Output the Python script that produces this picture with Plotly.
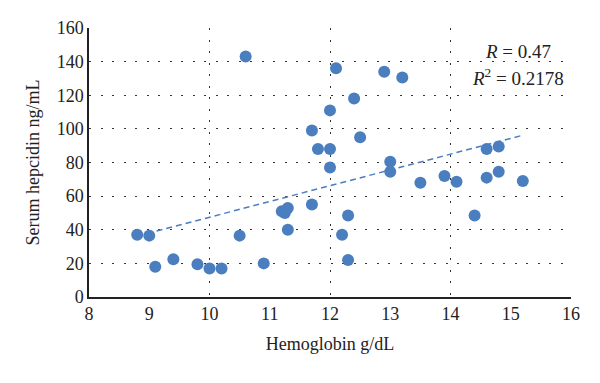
import plotly.graph_objects as go
import numpy as np

hemoglobin = [8.8, 9.0, 9.1, 9.4, 9.8, 10.0, 10.2, 10.5, 10.6, 10.9,
              11.2, 11.25, 11.3, 11.3, 11.7, 11.7, 11.8, 12.0, 12.0, 12.0,
              12.1, 12.2, 12.3, 12.3, 12.4, 12.5, 12.9, 13.0, 13.0, 13.2,
              13.5, 13.9, 14.1, 14.4, 14.6, 14.6, 14.8, 14.8, 15.2]
hepcidin = [37, 36.5, 18, 22.5, 19.5, 17, 17, 36.5, 143, 20,
            51, 50, 53, 40, 99, 55, 88, 88, 111, 77,
            136, 37, 48.5, 22, 118, 95, 134, 80.5, 74.5, 130.5,
            68, 72, 68.5, 48.5, 88, 71, 89.5, 74.5, 69]
x_ticks = [8, 9, 10, 11, 12, 13, 14, 15, 16]
x_grid = [10, 12, 14, 16]
y_ticks = [0, 20, 40, 60, 80, 100, 120, 140, 160]

blue = "#4A7EBF"
font = "Liberation Serif, Times New Roman, serif"
ink = "#222222"

coef = np.polyfit(hemoglobin, hepcidin, 1)
tx = [min(hemoglobin), max(hemoglobin)]
ty = [coef[0] * v + coef[1] for v in tx]

fig = go.Figure()
fig.add_trace(go.Scatter(x=tx, y=ty, mode="lines",
                         line=dict(color=blue, width=1.5, dash="6px,4px"),
                         hoverinfo="skip", showlegend=False))
fig.add_trace(go.Scatter(x=hemoglobin, y=hepcidin, mode="markers",
                         marker=dict(color=blue, size=12, line=dict(width=0)),
                         showlegend=False))
# invisible trace to carry the gridline axis
fig.add_trace(go.Scatter(x=x_grid, y=[0] * len(x_grid), xaxis="x2", mode="markers",
                         marker=dict(opacity=0), hoverinfo="skip", showlegend=False))

grid_color = "#333333"
grid_dash = "2px,9.5px"

fig.update_layout(
    width=600, height=383,
    margin=dict(l=89, r=29, t=28, b=86),
    plot_bgcolor="white", paper_bgcolor="white",
    font=dict(family=font, size=18, color=ink),
    xaxis=dict(range=[8, 16], tickvals=x_ticks, showgrid=False, zeroline=False,
               showline=True, linecolor=ink, linewidth=1.5, automargin=False,
               ticks="", tickfont=dict(size=18),
               title=dict(text="Hemoglobin g/dL", font=dict(size=18), standoff=14)),
    xaxis2=dict(range=[8, 16], overlaying="x", tickvals=x_grid, showgrid=True,
                gridcolor=grid_color, griddash=grid_dash, gridwidth=1, automargin=False,
                showticklabels=False, zeroline=False, showline=False, ticks=""),
    yaxis=dict(range=[0, 160], tickvals=y_ticks, showgrid=True,
               gridcolor=grid_color, griddash=grid_dash, gridwidth=1, automargin=False,
               zeroline=False, showline=True, linecolor=ink, linewidth=1.5,
               ticks="", ticksuffix=" ", tickfont=dict(size=18),
               title=dict(text="Serum hepcidin ng/mL", font=dict(size=18), standoff=12)),
)

fig.add_annotation(x=(517.5 - 89) / (571 - 89), y=(297 - 51) / (297 - 28),
                   xref="paper", yref="paper", showarrow=False,
                   text="<i>R</i> = 0.47", font=dict(size=19, family=font, color=ink),
                   xanchor="center", yanchor="middle")
fig.add_annotation(x=(517.5 - 89) / (571 - 89), y=(297 - 77) / (297 - 28),
                   xref="paper", yref="paper", showarrow=False,
                   text="<i>R</i><sup>2</sup> = 0.2178", font=dict(size=19, family=font, color=ink),
                   xanchor="center", yanchor="middle")

fig.write_html("out.html", config={"displayModeBar": False},
               post_script="document.body.style.margin='0';document.body.style.overflow='hidden';")
